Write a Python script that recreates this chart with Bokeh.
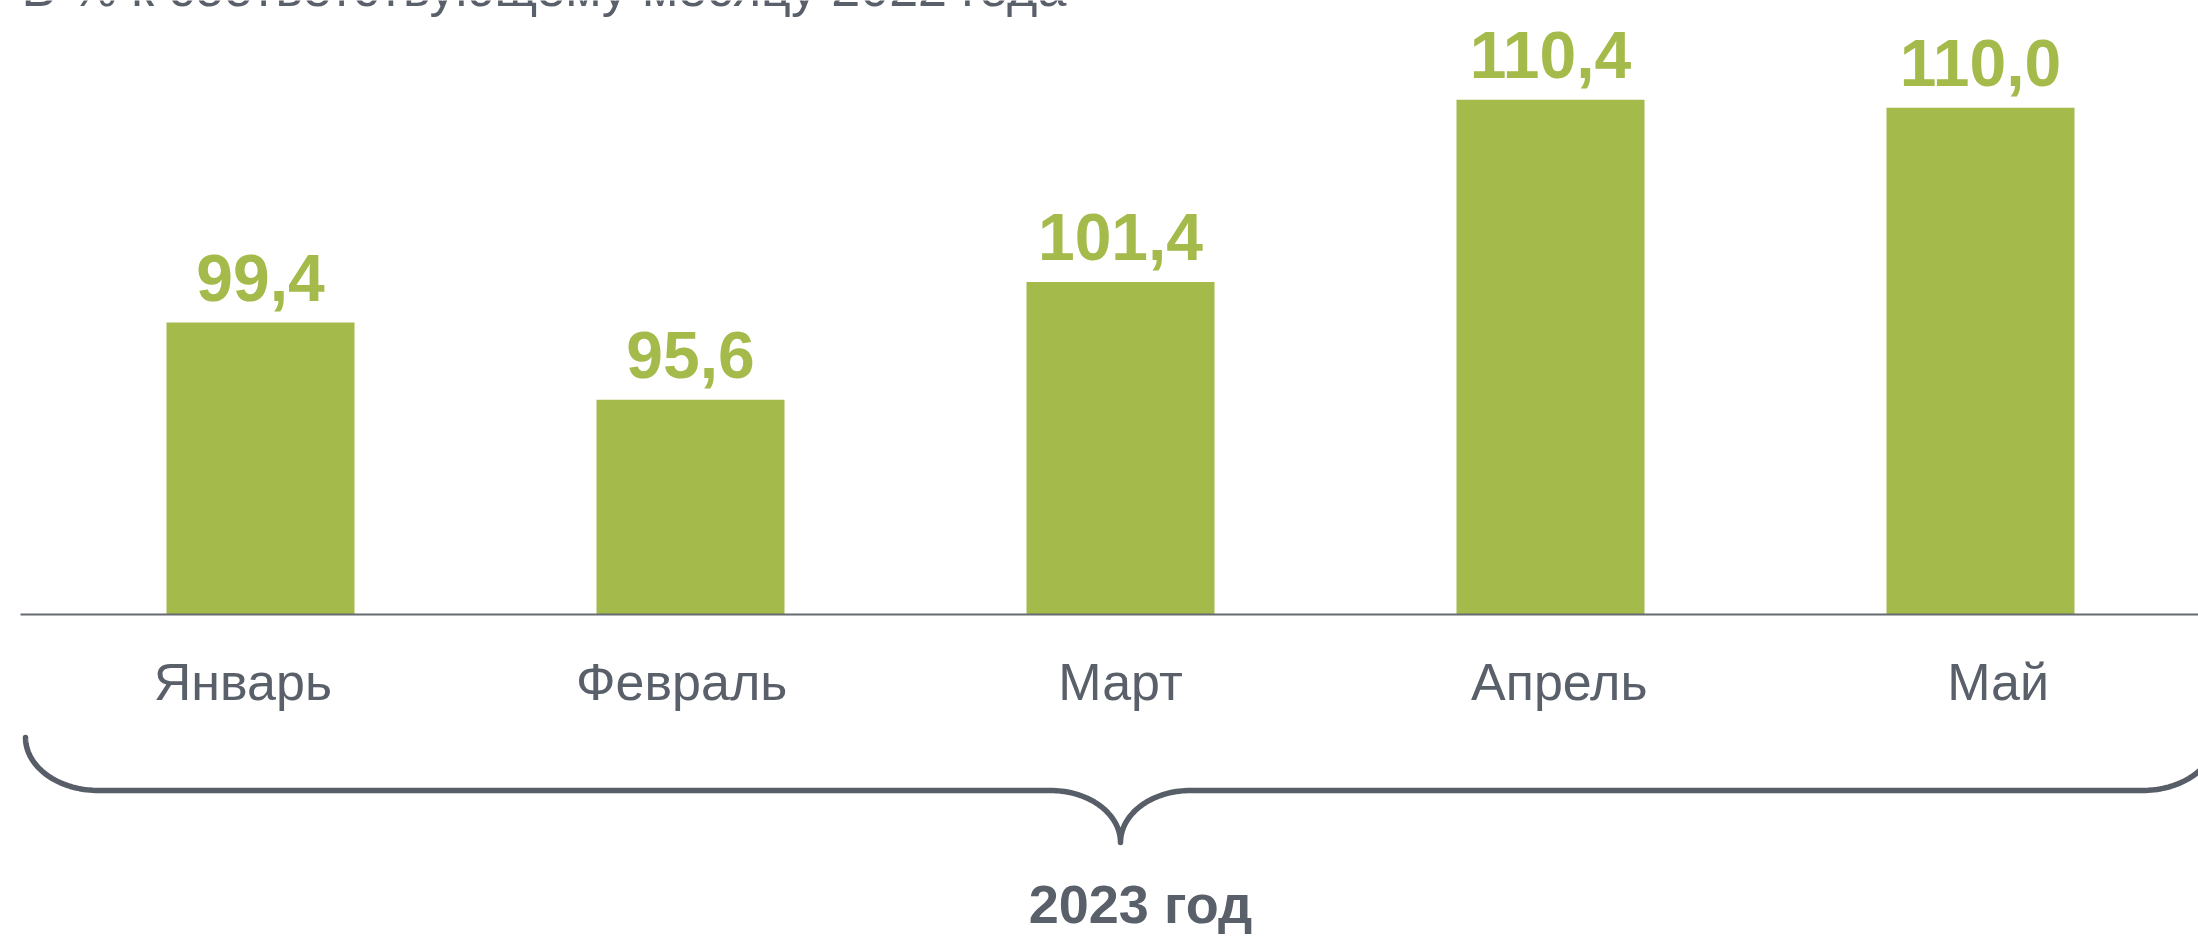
import numpy as np
from bokeh.plotting import figure
from bokeh.models import Range1d, ColumnDataSource
from bokeh.core.properties import value
from bokeh.embed import file_html
from bokeh.resources import INLINE

# ---- data ----
months = ["Январь", "Февраль", "Март", "Апрель", "Май"]
values = [99.4, 95.6, 101.4, 110.4, 110.0]
value_labels = [f"{v:.1f}".replace(".", ",") for v in values]
subtitle = "В % к соответствующему месяцу 2022 года"
period_label = "2023 год"
base_value = 85.0

# ---- layout / styling ----
W, H = 2198, 936
step_px = 430.0          # px between category centres
first_px = 260.0         # px of first category centre
base_px = 614.0          # px of baseline from top
k = 20.27                # px per unit
BSHIFT = 0.35            # svg text baseline correction (fraction of font size)

GREEN = "#a4ba4a"
GRAY = "#59606a"
FONT = value("Liberation Sans")

def dx(px):
    return px / step_px

def dy(px):
    return px / k

x_start = -first_px / step_px
x_end = (W - first_px) / step_px
y_end = base_value + base_px / k
y_start = base_value - (H - base_px) / k

p = figure(width=W, height=H, output_backend="svg", toolbar_location=None,
           x_range=Range1d(x_start, x_end), y_range=Range1d(y_start, y_end),
           x_axis_type=None, y_axis_type=None, min_border=0)
p.outline_line_color = None
p.grid.visible = False
p.background_fill_color = "white"
p.border_fill_color = "white"

VAL_FS = 66
CAT_FS = 52
PER_FS = 54

xs = list(range(len(months)))
src = ColumnDataSource(dict(x=xs, top=values, lab=value_labels,
                            ly=[v + dy(22 + BSHIFT * VAL_FS) for v in values]))

# bars
p.vbar(x="x", top="top", bottom=base_value, width=188 / step_px, source=src,
       fill_color=GREEN, line_color=None)

# baseline
p.segment(x0=[x_start + dx(20)], y0=[base_value], x1=[x_end], y1=[base_value],
          line_color="#666b73", line_width=2)

# value labels
p.text(x="x", y="ly", text="lab", source=src,
       text_font=FONT, text_font_style="bold", text_font_size=f"{VAL_FS}px",
       text_color=GREEN, text_align="center", text_baseline="alphabetic")

# category labels (slightly wider spacing than bars)
cat_x = [i + dx((i - 2) * 8.8) for i in xs]
p.text(x=cat_x, y=[base_value - dy(86 - BSHIFT * CAT_FS)] * len(months), text=months,
       text_font=FONT, text_font_size=f"{CAT_FS}px", text_color=GRAY,
       text_align="center", text_baseline="alphabetic")

# subtitle (cut off at the top, as in the source)
p.text(x=[x_start + dx(21)], y=[y_end - dy(6 - BSHIFT * CAT_FS)], text=[subtitle],
       text_font=FONT, text_font_size=f"{CAT_FS}px", text_color=GRAY,
       text_align="left", text_baseline="alphabetic")

# brace under categories
xl = xs[0] - dx(235)
xr = xs[-1] + dx(235)
xc = (xs[0] + xs[-1]) / 2
y_top = base_value - dy(123)
y_line = base_value - dy(176)
y_tip = base_value - dy(228)
erx, ery = dx(73), dy(53)
mrx, mry = dx(70), y_line - y_tip

t = np.linspace(0, np.pi / 2, 40)
left_end_x = xl + erx * (1 - np.cos(t))
left_end_y = y_top - ery * np.sin(t)
mid_l_x = (xc - mrx) + mrx * np.sin(t)
mid_l_y = y_line - mry * (1 - np.cos(t))
mid_r_x = xc + mrx * (1 - np.cos(t))
mid_r_y = y_tip + mry * np.sin(t)
right_end_x = (xr - erx) + erx * np.sin(t)
right_end_y = y_line + ery * (1 - np.cos(t))

bx = np.concatenate([left_end_x, mid_l_x, mid_r_x, right_end_x])
by = np.concatenate([left_end_y, mid_l_y, mid_r_y, right_end_y])
p.line(bx, by, line_color="#575e68", line_width=5.5, line_cap="round", line_join="round")

# period label
p.text(x=[xc + dx(20)], y=[base_value - dy(308 - BSHIFT * PER_FS)], text=[period_label],
       text_font=FONT, text_font_style="bold", text_font_size=f"{PER_FS}px",
       text_color=GRAY, text_align="center", text_baseline="alphabetic")

open("out.html", "w").write(file_html(p, INLINE))
